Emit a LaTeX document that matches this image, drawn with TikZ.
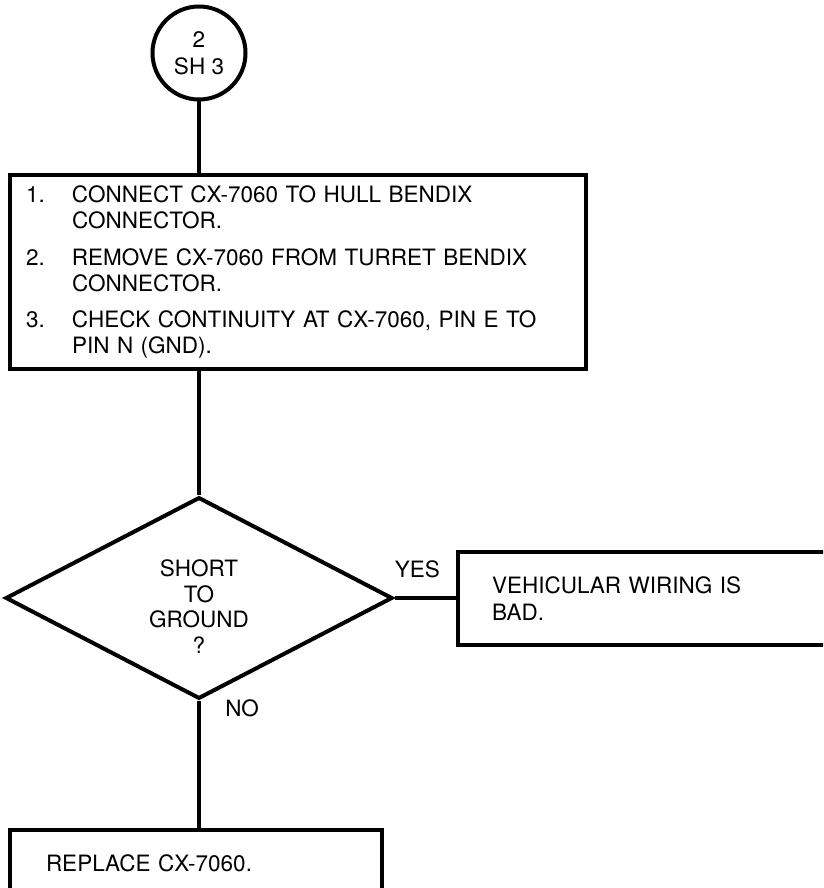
\documentclass[tikz,border=0pt]{standalone}
\usepackage{fontspec}
\setmainfont{TeX Gyre Heros}
\usetikzlibrary{shapes.geometric, positioning}

\begin{document}
\begin{tikzpicture}[
        x=1pt, y=-1pt,
        every node/.style={font=\fontsize{22.5}{25.5}\selectfont},
        box/.style={draw, rectangle, line width=4pt, inner ysep=0pt, align=left},
        flow/.style={line width=4.5pt}
      ]

      \useasboundingbox (0,0) rectangle (823,888);
      \clip (0,0) rectangle (823,888);

      % Off-sheet connector
      \node[draw, circle, line width=4pt, minimum size=93pt, inner sep=0pt, align=center] (sheet) at (199,53) {2\\[2pt]SH 3};

      % Test steps
      \node[box, anchor=north west, minimum height=194pt, text width=544pt, inner xsep=16pt] (steps) at (8,173)
        {\makebox[46pt][l]{1.}CONNECT CX-7060 TO HULL BENDIX\\
         \hspace*{46pt}CONNECTOR.\\[12pt]
         \makebox[46pt][l]{2.}REMOVE CX-7060 FROM TURRET BENDIX\\
         \hspace*{46pt}CONNECTOR.\\[11pt]
         \makebox[46pt][l]{3.}CHECK CONTINUITY AT CX-7060, PIN E TO\\
         \hspace*{46pt}PIN N (GND).};

      % Decision
      \node[draw, diamond, line width=4pt, minimum width=387pt, minimum height=190pt, inner sep=0pt] (short) at (199,598)
        {\raisebox{-12pt}[\height][\depth]{\begin{tabular}{@{}c@{}}SHORT\\TO\\GROUND\\?\end{tabular}}};

      % Results
      \node[box, anchor=north west, minimum height=93pt, text width=312pt, inner xsep=34pt, font=\fontsize{22.5}{26.5}\selectfont] (bad) at (456,550)
        {VEHICULAR WIRING IS\\BAD.};
      \node[box, anchor=north west, minimum height=67pt, text width=300pt, inner xsep=36pt] (replace) at (8,828)
        {REPLACE CX-7060.};

      % Flow lines
      \draw[flow] (sheet) -- (sheet |- steps.north);
      \draw[flow] (short.north |- steps.south) -- (short.north);
      \draw[flow] (short.east) -- (short.east -| bad.west)
        node[at start, anchor=base west, inner sep=0pt, xshift=-2pt, yshift=21pt] (yes) {YES};
      \draw[flow] (short.south) -- (short.south |- replace.north)
        node[at start, anchor=base west, inner sep=0pt, xshift=24pt, yshift=-16pt] (no) {NO};
  \end{tikzpicture}
\end{document}
